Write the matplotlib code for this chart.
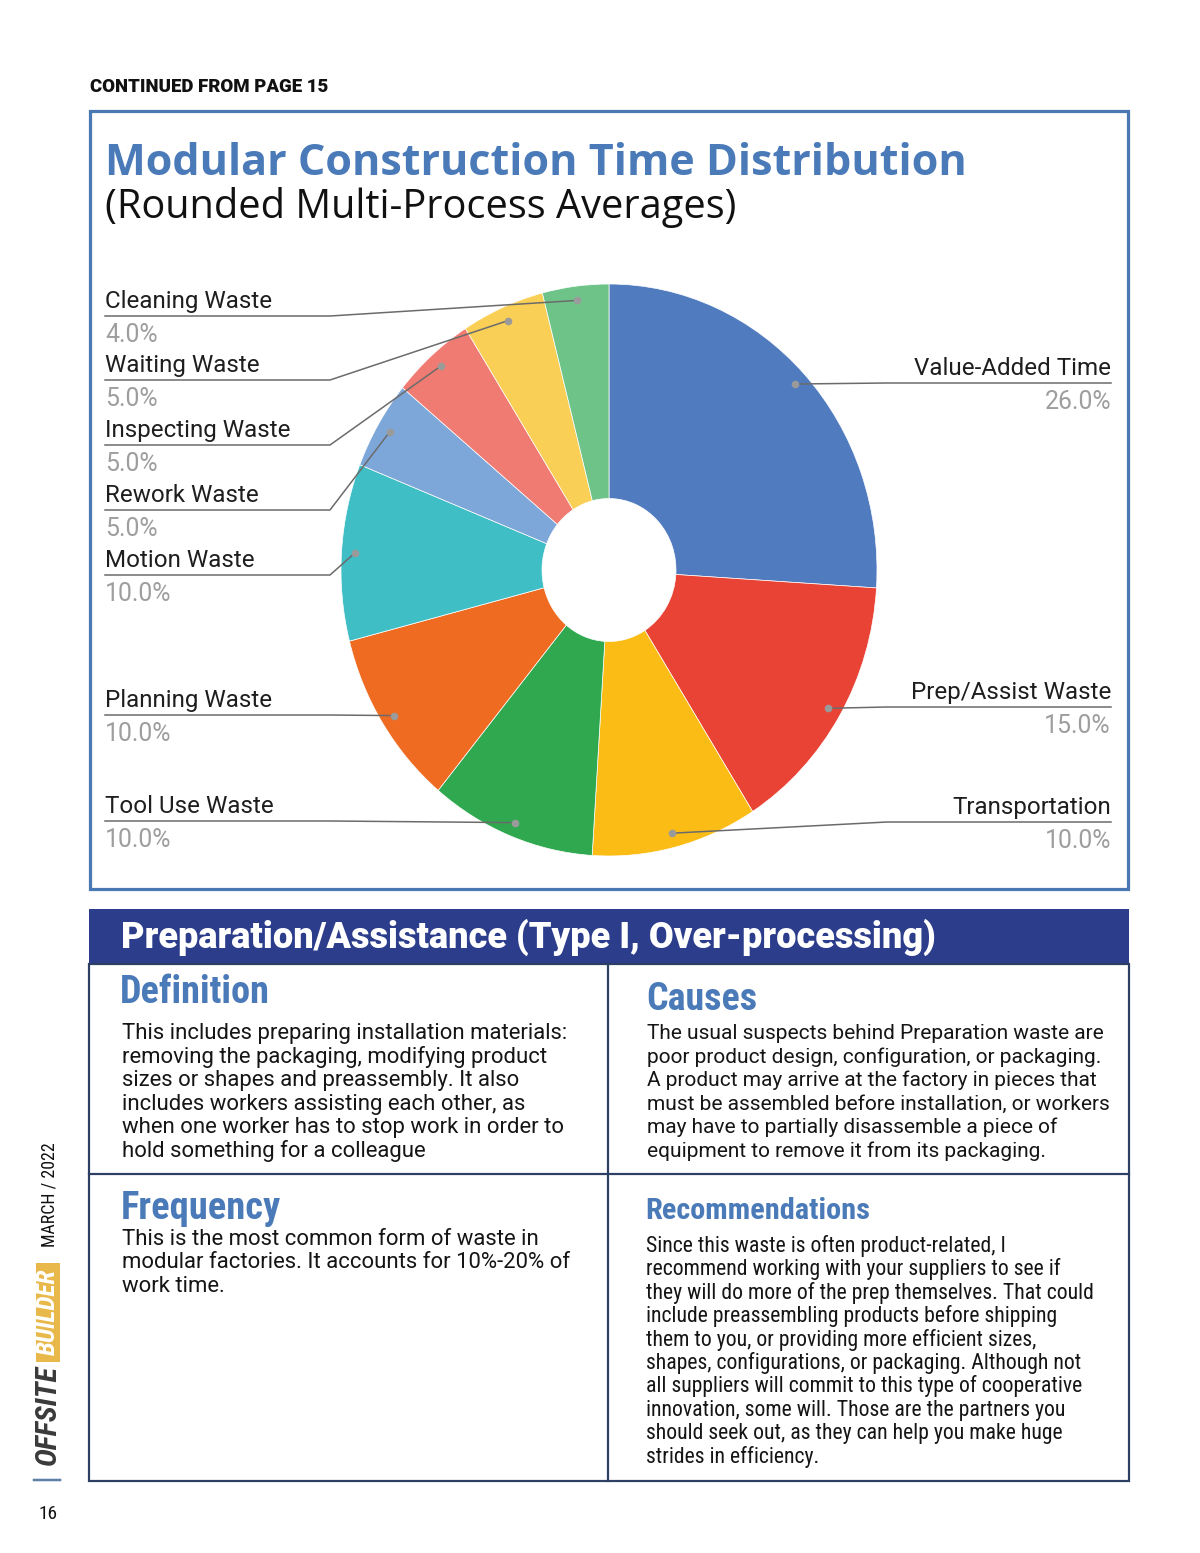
import matplotlib
matplotlib.use('Agg')
import matplotlib.pyplot as plt
from matplotlib import font_manager as fm
from matplotlib.font_manager import FontProperties
from matplotlib.patches import Rectangle
import numpy as np

# ---------------- data ----------------
categories = ['Value-Added Time', 'Prep/Assist Waste', 'Transportation', 'Tool Use Waste',
              'Planning Waste', 'Motion Waste', 'Rework Waste', 'Inspecting Waste',
              'Waiting Waste', 'Cleaning Waste']
shares = [26.0, 15.0, 10.0, 10.0, 10.0, 10.0, 5.0, 5.0, 5.0, 4.0]
colors = ['#507BBF', '#E84335', '#FBBC15', '#2FA84F', '#F06B22', '#40BEC6',
          '#7DA7D8', '#F07B72', '#FACF55', '#6EC389']
label_side = ['right', 'right', 'right', 'left', 'left', 'left', 'left', 'left', 'left', 'left']
label_line_y = [383, 707, 822, 821, 715, 575, 510, 445, 380, 316]

title = 'Modular Construction Time Distribution'
subtitle = '(Rounded Multi-Process Averages)'
top_note = 'CONTINUED FROM PAGE 15'
table_header = 'Preparation/Assistance (Type I, Over-processing)'
sections = ['Definition', 'Causes', 'Frequency', 'Recommendations']
definition_lines = ['This includes preparing installation materials:',
                    'removing the packaging, modifying product',
                    'sizes or shapes and preassembly. It also',
                    'includes workers assisting each other, as',
                    'when one worker has to stop work in order to',
                    'hold something for a colleague']
causes_lines = ['The usual suspects behind Preparation waste are',
                'poor product design, configuration, or packaging.',
                'A product may arrive at the factory in pieces that',
                'must be assembled before installation, or workers',
                'may have to partially disassemble a piece of',
                'equipment to remove it from its packaging.']
frequency_lines = ['This is the most common form of waste in',
                   'modular factories. It accounts for 10%-20% of',
                   'work time.']
recommendation_lines = ['Since this waste is often product-related, I',
                        'recommend working with your suppliers to see if',
                        'they will do more of the prep themselves. That could',
                        'include preassembling products before shipping',
                        'them to you, or providing more efficient sizes,',
                        'shapes, configurations, or packaging. Although not',
                        'all suppliers will commit to this type of cooperative',
                        'innovation, some will. Those are the partners you',
                        'should seek out, as they can help you make huge',
                        'strides in efficiency.']
side_date = 'MARCH / 2022'
side_brand1 = 'OFFSITE'
side_brand2 = 'BUILDER'
page_no = '16'

# ---------------- fonts ----------------
def _w(f):
    w = f.weight
    if isinstance(w, str):
        return {'ultralight': 200, 'light': 300, 'normal': 400, 'regular': 400, 'book': 400,
                'medium': 500, 'semibold': 600, 'demibold': 600, 'bold': 700,
                'heavy': 800, 'extra bold': 800, 'black': 900}.get(w, 400)
    return int(w)

def _is_narrow(f):
    nm = f.name.lower()
    st = f.stretch
    if 'condensed' in nm or 'narrow' in nm:
        return True
    if isinstance(st, str):
        return 'condensed' in st
    try:
        return int(st) < 500
    except Exception:
        return False

def find_condensed(bold, italic=False):
    prefs = ['roboto condensed', 'open sans condensed', 'liberation sans narrow',
             'dejavu sans condensed', 'dejavu sans', 'noto sans']
    best = None
    for f in fm.fontManager.ttflist:
        if not _is_narrow(f):
            continue
        if ('italic' in f.style or 'oblique' in f.style) != italic:
            continue
        wb = _w(f) >= 600
        if wb != bold:
            continue
        nm = f.name.lower()
        rank = prefs.index(nm) if nm in prefs else len(prefs)
        key = (rank, -_w(f)) if bold else (rank, abs(_w(f) - 400))
        if best is None or key < best[0]:
            best = (key, f.fname)
    if best:
        return FontProperties(fname=best[1])
    return None

cond_bold = find_condensed(True) or FontProperties(family='Roboto', weight='bold')
cond_reg = find_condensed(False) or FontProperties(family='Roboto')
cond_bold_it = find_condensed(True, True) or FontProperties(family='Roboto', weight='black', style='italic')

# ---------------- figure ----------------
W, H = 1200, 1553
fig = plt.figure(figsize=(W / 100, H / 100), dpi=100)
fig.patch.set_facecolor('white')
ax = fig.add_axes([0, 0, 1, 1])
ax.set_xlim(0, W)
ax.set_ylim(H, 0)
ax.axis('off')
ax.set_zorder(2)
renderer = fig.canvas.get_renderer()

def px2pt(p):
    return p * 0.72

def place(x, y, s, width=None, length=None, size=12, **kw):
    kw.setdefault('ha', 'left')
    kw.setdefault('va', 'baseline')
    t = ax.text(x, y, s, fontsize=size, **kw)
    if width is not None:
        bb = t.get_window_extent(renderer)
        t.set_fontsize(size * width / bb.width)
    elif length is not None:
        bb = t.get_window_extent(renderer)
        t.set_fontsize(size * length / bb.height)
    return t

def fit_size(s, width, **kw):
    t = ax.text(0, 0, s, fontsize=20, **kw)
    bb = t.get_window_extent(renderer)
    t.remove()
    return 20 * width / bb.width

# top note
place(90, 92, top_note, width=238, family='Roboto', weight='black', color='#111111')

# chart frame
ax.add_patch(Rectangle((90, 111), 1038, 778, fill=False, edgecolor='#4A78B2', lw=px2pt(3.2)))

place(105, 175, title, width=860, family='Open Sans', weight='bold', color='#4A7AB8')
place(105, 218, subtitle, width=627, family='Open Sans', color='#111111')

# ---------------- pie ----------------
cx, cy, rx, ry = 609, 570, 268, 286
pax = fig.add_axes([(cx - rx) / W, 1 - (cy + ry) / H, 2 * rx / W, 2 * ry / H])
pax.set_zorder(1)
wedges, _ = pax.pie(shares, colors=colors, startangle=90, counterclock=False, radius=1.0,
                    wedgeprops=dict(width=0.75, edgecolor='white', linewidth=0.5))
for w_ in wedges:
    w_.set_clip_on(False)
pax.set_aspect('auto')
pax.set_xlim(-1, 1)
pax.set_ylim(-1, 1)
pax.axis('off')

total = sum(shares)
cum = np.cumsum(shares)
inv = ax.transData.inverted()
name_size = fit_size('Cleaning Waste', 167, family='Roboto')
for i, cat in enumerate(categories):
    mid = 2 * np.pi * (cum[i] - shares[i] / 2) / total
    ax_pt = (0.95 * np.sin(mid), 0.95 * np.cos(mid))
    bx, by = inv.transform(pax.transData.transform(ax_pt))
    ly = label_line_y[i]
    if label_side[i] == 'left':
        xs = [105, 330, bx]
        tx, ha = 105, 'left'
    else:
        xs = [1111, 887, bx]
        tx, ha = 1111, 'right'
    ax.plot(xs, [ly, ly, by], color='#6b6b6b', lw=1.1, solid_joinstyle='round', zorder=5)
    ax.plot([bx], [by], 'o', ms=5.5, color='#9a9a9a', mec='none', zorder=6)
    ax.text(tx, ly - 8, cat, fontsize=name_size, family='Roboto', color='#1e1e1e', ha=ha, va='baseline')
    ax.text(tx, ly + 26, f'{shares[i]:.1f}%', fontsize=name_size * 1.03, family='Roboto',
            color='#9e9e9e', ha=ha, va='baseline')

# ---------------- table ----------------
ax.add_patch(Rectangle((89, 909), 1040, 55, facecolor='#2C3D8C', edgecolor='none'))
place(121, 948, table_header, width=812, family='Roboto', weight='black', color='white')
tcol = '#2E3F66'
ax.add_patch(Rectangle((89, 964), 1040, 517, fill=False, edgecolor=tcol, lw=px2pt(2.2)))
ax.plot([608, 608], [964, 1481], color=tcol, lw=px2pt(2.2))
ax.plot([89, 1129], [1174, 1174], color=tcol, lw=px2pt(2.2))

head_col = '#4A7AB8'
place(120, 1003, sections[0], width=150, fontproperties=cond_bold, color=head_col)
place(646, 1010, sections[1], width=111, fontproperties=cond_bold, color=head_col)
place(121, 1219, sections[2], width=160, fontproperties=cond_bold, color=head_col)
place(645, 1219, sections[3], width=225, fontproperties=cond_bold, color=head_col)

body_font = 'Roboto'
left_size = np.mean([fit_size(definition_lines[0], 453, family=body_font),
                     fit_size(frequency_lines[1], 441, family=body_font)])
right_size = min(fit_size(causes_lines[1], 455, family=body_font),
                 fit_size(causes_lines[3], 463, family=body_font))
line_step = 23.6
body_col = '#151515'
for k, s in enumerate(definition_lines):
    ax.text(122, 1039 + k * line_step, s, fontsize=left_size, family=body_font, color=body_col, va='baseline')
for k, s in enumerate(causes_lines):
    ax.text(647, 1039 + k * line_step, s, fontsize=right_size, family=body_font, color=body_col, va='baseline')
for k, s in enumerate(frequency_lines):
    ax.text(122, 1245 + k * 23.4, s, fontsize=left_size, family=body_font, color=body_col, va='baseline')
rec_size = fit_size(recommendation_lines[2], 449, fontproperties=cond_reg)
for k, s in enumerate(recommendation_lines):
    ax.text(646, 1252 + k * 23.4, s, fontsize=rec_size, fontproperties=cond_reg, color=body_col, va='baseline')

# ---------------- side branding ----------------
place(49, 1195, side_date, length=104, fontproperties=cond_reg, rotation=90,
      ha='center', va='center', color='#111111')
ax.add_patch(Rectangle((36, 1263), 24, 99, facecolor='#E8B84A', edgecolor='none'))
place(48, 1312, side_brand2, length=86, fontproperties=cond_bold_it, rotation=90,
      ha='center', va='center', color='white')
place(48, 1415, side_brand1, length=100, fontproperties=cond_bold_it, rotation=90,
      ha='center', va='center', color='#3a3a3a')
ax.plot([34, 60], [1480, 1480], color='#5B7FA6', lw=px2pt(2.5))
place(48, 1519, page_no, width=19, fontproperties=cond_reg, ha='center', color='#111111')

fig.savefig('out.png', dpi=100, facecolor='white')
